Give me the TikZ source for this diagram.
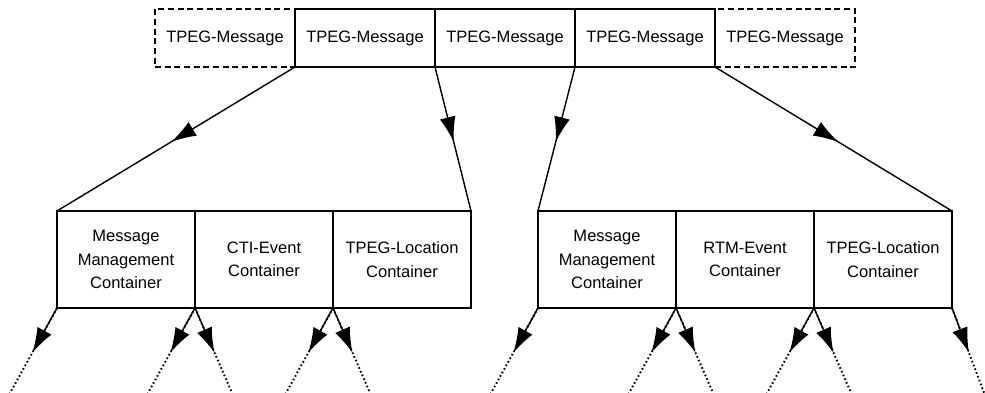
\documentclass[tikz,border=0pt]{standalone}
\usepackage{fontspec}
\setmainfont{Liberation Sans}
\usepackage{tikz}
\usetikzlibrary{positioning,calc,arrows.meta,decorations.markings}

\begin{document}
\begin{tikzpicture}
		[line width=0.8pt,
		msg/.style= {draw,minimum width=2.8cm,minimum height=1.16cm,outer sep=0pt,inner sep=0pt,line width=0.9pt},
		spare/.style= {msg,dash pattern=on 3.5pt off 2pt},
		cont/.style= {draw,minimum width=2.76cm,minimum height=1.94cm,outer sep=0pt,inner sep=0pt,align=center,line width=0.9pt},
		tip/.style= {-{Latex[length=5mm,width=3.2mm]}},
		mid/.style= {decoration={markings,mark=at position 0.52 with {\arrow{Latex[length=5mm,width=3.2mm]}}},postaction={decorate}},
		dots/.style= {line width=1.1pt,dash pattern=on 0.9pt off 1.4pt},
		font=\fontsize{9.4}{13.4}\selectfont]

		\useasboundingbox (0,0) rectangle (19.7,-7.86);

		% message stream
		\node[spare] (t1) at (4.5,-0.76) {TPEG-Message};
		\node[msg] (t2) [right=0pt of t1] {TPEG-Message};
		\node[msg] (t3) [right=0pt of t2] {TPEG-Message};
		\node[msg] (t4) [right=0pt of t3] {TPEG-Message};
		\node[spare] (t5) [right=0pt of t4] {TPEG-Message};

		% containers of the two messages
		\node[cont] (l1) at (2.52,-5.19) {Message\\Management\\Container};
		\node[cont] (l2) [right=0pt of l1] {CTI-Event\\Container};
		\node[cont] (l3) [right=0pt of l2] {TPEG-Location\\Container};

		\node[cont] (r1) at (12.14,-5.19) {Message\\Management\\Container};
		\node[cont] (r2) [right=0pt of r1] {RTM-Event\\Container};
		\node[cont] (r3) [right=0pt of r2] {TPEG-Location\\Container};

		\draw[mid] (t2.south west) -- (l1.north west);
		\draw[mid] (t2.south east) -- (l3.north east);
		\draw[mid] (t4.south west) -- (r1.north west);
		\draw[mid] (t4.south east) -- (r3.north east);

		% further content below the containers
		\foreach \c/\dx [count=\i] in {l1.south west/-0.95, l1.south east/-0.95, l1.south east/0.75,
				l2.south east/-0.95, l2.south east/0.75,
				r1.south west/-0.95, r1.south east/-0.95, r1.south east/0.75,
				r2.south east/-0.95, r2.south east/0.75, r3.south east/0.65}
		{
			\coordinate (f\i) at ($(\c)+(\dx,-1.72)$);
			\draw[dots] (\c) -- (f\i);
			\draw[tip] (\c) -- ($(\c)!0.52!(f\i)$);
		}

	\end{tikzpicture}
\end{document}
